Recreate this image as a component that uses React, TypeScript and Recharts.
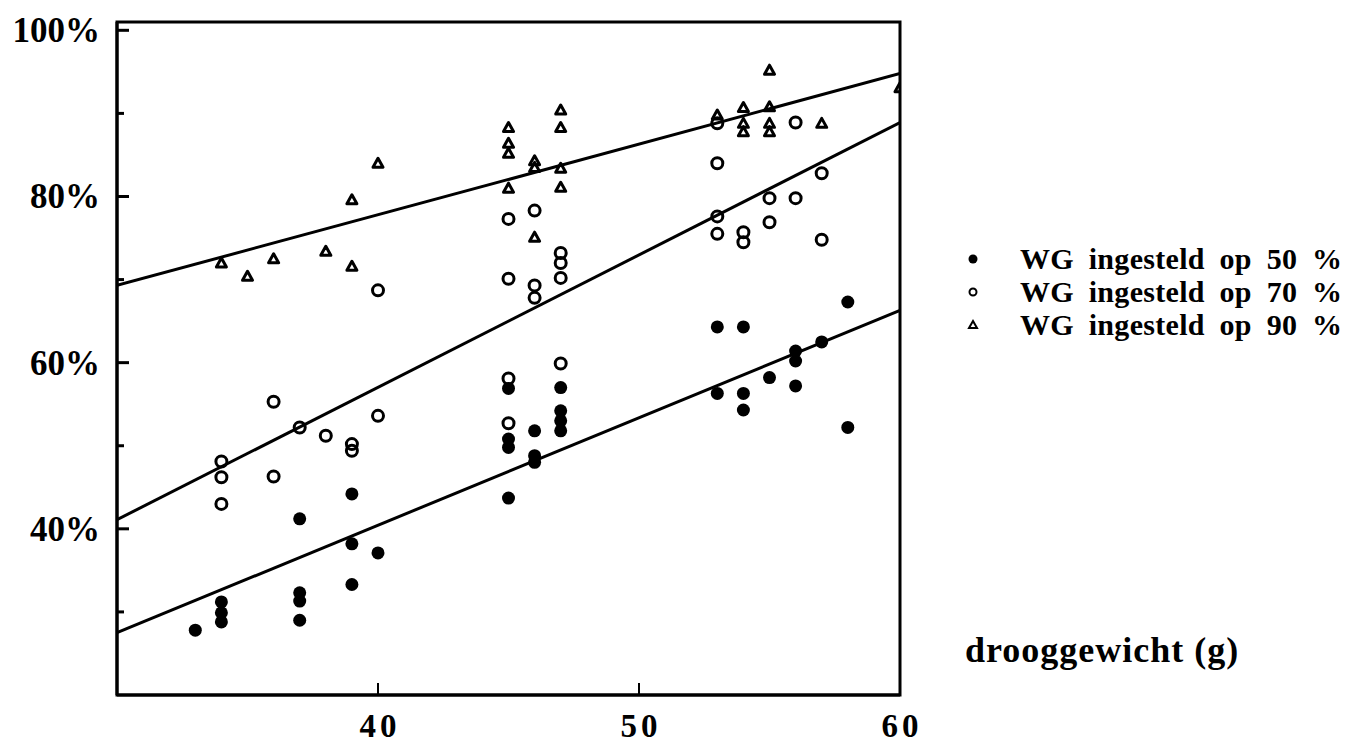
import { ScatterChart, Scatter, XAxis, YAxis, Legend, ReferenceArea, Label } from "recharts";

type Pair = [number, number];

// droog gewicht (g) vs WG (%)
const wg50: Pair[] = [
  [33, 27.8],
  [34, 31.2], [34, 29.9], [34, 28.8],
  [37, 41.2], [37, 32.3], [37, 31.3], [37, 29.0],
  [39, 44.2], [39, 38.2], [39, 33.3],
  [40, 37.1],
  [45, 56.9], [45, 50.8], [45, 49.8], [45, 43.7],
  [46, 51.8], [46, 48.8], [46, 48.0],
  [47, 57.0], [47, 54.2], [47, 53.0], [47, 51.8],
  [53, 64.3], [53, 56.3],
  [54, 64.3], [54, 56.3], [54, 54.3],
  [55, 58.2],
  [56, 61.4], [56, 60.2], [56, 57.2],
  [57, 62.5],
  [58, 67.3], [58, 52.2],
];

const wg70: Pair[] = [
  [34, 48.1], [34, 46.2], [34, 43.0],
  [36, 55.3], [36, 46.3],
  [37, 52.2],
  [38, 51.2],
  [39, 50.2], [39, 49.4],
  [40, 68.7], [40, 53.6],
  [45, 77.3], [45, 70.1], [45, 58.1], [45, 52.7],
  [46, 78.3], [46, 69.3], [46, 67.8],
  [47, 73.2], [47, 72.0], [47, 70.2], [47, 59.9],
  [53, 88.8], [53, 84.0], [53, 77.6], [53, 75.5],
  [54, 75.7], [54, 74.5],
  [55, 79.8], [55, 76.9],
  [56, 88.9], [56, 79.8],
  [57, 82.8], [57, 74.8],
];

const wg90: Pair[] = [
  [34, 72.0],
  [35, 70.4],
  [36, 72.5],
  [38, 73.4],
  [39, 79.6], [39, 71.6],
  [40, 84.0],
  [45, 88.3], [45, 86.4], [45, 85.2], [45, 81.0],
  [46, 84.3], [46, 83.5], [46, 75.1],
  [47, 90.4], [47, 88.3], [47, 83.4], [47, 81.1],
  [53, 89.8],
  [54, 90.7], [54, 88.8], [54, 87.8],
  [55, 95.2], [55, 90.8], [55, 88.8], [55, 87.8],
  [57, 88.8],
  [60, 93.1],
];

// regression lines (end points)
const fit50: Pair[] = [[30, 27.5], [60, 66.3]];
const fit70: Pair[] = [[30, 41.1], [60, 88.9]];
const fit90: Pair[] = [[30, 69.3], [60, 94.8]];

const xTicks = [40, 50, 60];
const yTicks = [30, 40, 50, 60, 70, 80, 90, 100];

const seriesNames = ["WG ingesteld op 50 %", "WG ingesteld op 70 %", "WG ingesteld op 90 %"];

const FONT = '"Liberation Serif", "Times New Roman", serif';

const toPoints = (pairs: Pair[]) => pairs.map(([x, y]) => ({ x, y }));

const Filled = (p: any) => <circle cx={p.cx} cy={p.cy} r={6.5} fill="#000" />;
const Open = (p: any) => (
  <circle cx={p.cx} cy={p.cy} r={5.5} fill="none" stroke="#000" strokeWidth={3} />
);
const Tri = (p: any) => (
  <path
    d={`M${p.cx},${p.cy - 5} L${p.cx + 5},${p.cy + 4} L${p.cx - 5},${p.cy + 4} Z`}
    fill="none"
    stroke="#000"
    strokeWidth={3}
    strokeLinejoin="round"
  />
);
const NoDot = () => <g />;

function YTick({ x, y, payload }: any) {
  const major = payload.value % 20 === 0;
  return (
    <g>
      <line x1={x + 17} x2={x + 17 + (major ? 12 : 7)} y1={y} y2={y} stroke="#000" strokeWidth={3} />
      {major && (
        <text x={x} y={y} dy={12} textAnchor="end" fontFamily={FONT} fontWeight="bold" fontSize={35} fill="#000">
          {payload.value}%
        </text>
      )}
    </g>
  );
}

function XTick({ x, y, payload }: any) {
  return (
    <g>
      {payload.value < 60 && <line x1={x} x2={x} y1={y} y2={y - 12} stroke="#000" strokeWidth={2} />}
      <text x={x + 2} y={y + 42} textAnchor="middle" fontFamily={FONT} fontWeight="bold" fontSize={33} letterSpacing={4} fill="#000">
        {payload.value}
      </text>
    </g>
  );
}

function LegendBox() {
  const marks = [
    <circle key="a" cx={8} cy={8} r={4.5} fill="#000" />,
    <circle key="b" cx={8} cy={8} r={3.5} fill="none" stroke="#000" strokeWidth={2} />,
    <path key="c" d="M8,4 L12,11 L4,11 Z" fill="none" stroke="#000" strokeWidth={2} />,
  ];
  return (
    <div style={{ fontFamily: FONT, fontWeight: "bold", fontSize: 30, color: "#000" }}>
      {seriesNames.map((name, i) => (
        <div key={name} style={{ display: "flex", alignItems: "center", height: 33, whiteSpace: "nowrap" }}>
          <svg width={16} height={16} style={{ flex: "none" }}>{marks[i]}</svg>
          <span style={{ marginLeft: 39, wordSpacing: 7, letterSpacing: 0.3 }}>{name}</span>
        </div>
      ))}
    </div>
  );
}

export default function App() {
  return (
    <ScatterChart width={1356} height={739} margin={{ top: 14, right: 464, bottom: 8, left: 0 }}>
      <XAxis
        dataKey="x"
        type="number"
        domain={[30, 60]}
        ticks={xTicks}
        height={44}
        tickSize={0}
        tickMargin={0}
        tickLine={false}
        tick={<XTick />}
        axisLine={{ stroke: "#000", strokeWidth: 3 }}
        allowDataOverflow
      >
        <Label
          content={(props: any) => {
            const vb = props.viewBox;
            return (
              <text x={vb.x + vb.width + 65} y={vb.y - 33} fontFamily={FONT} fontWeight="bold" fontSize={36} letterSpacing={1} fill="#000">
                drooggewicht (g)
              </text>
            );
          }}
        />
      </XAxis>
      <YAxis
        dataKey="y"
        type="number"
        domain={[20, 101]}
        ticks={yTicks}
        width={109}
        tickSize={0}
        tickMargin={17}
        tickLine={false}
        tick={<YTick />}
        axisLine={{ stroke: "#000", strokeWidth: 3 }}
        allowDataOverflow
      />
      <ReferenceArea x1={30} x2={60} y1={20} y2={101} fill="none" stroke="#000" strokeWidth={3} ifOverflow="visible" />
      <Scatter data={toPoints(fit50)} line={{ stroke: "#000", strokeWidth: 3 }} shape={NoDot} legendType="none" isAnimationActive={false} />
      <Scatter data={toPoints(fit70)} line={{ stroke: "#000", strokeWidth: 3 }} shape={NoDot} legendType="none" isAnimationActive={false} />
      <Scatter data={toPoints(fit90)} line={{ stroke: "#000", strokeWidth: 3 }} shape={NoDot} legendType="none" isAnimationActive={false} />
      <Scatter name={seriesNames[0]} data={toPoints(wg50)} shape={Filled} isAnimationActive={false} />
      <Scatter name={seriesNames[1]} data={toPoints(wg70)} shape={Open} isAnimationActive={false} />
      <Scatter name={seriesNames[2]} data={toPoints(wg90)} shape={Tri} isAnimationActive={false} />
      <Legend
        layout="vertical"
        align="center"
        verticalAlign="middle"
        content={() => <LegendBox />}
        wrapperStyle={{ left: 957, top: 234, width: 420, height: 100 }}
      />
    </ScatterChart>
  );
}
